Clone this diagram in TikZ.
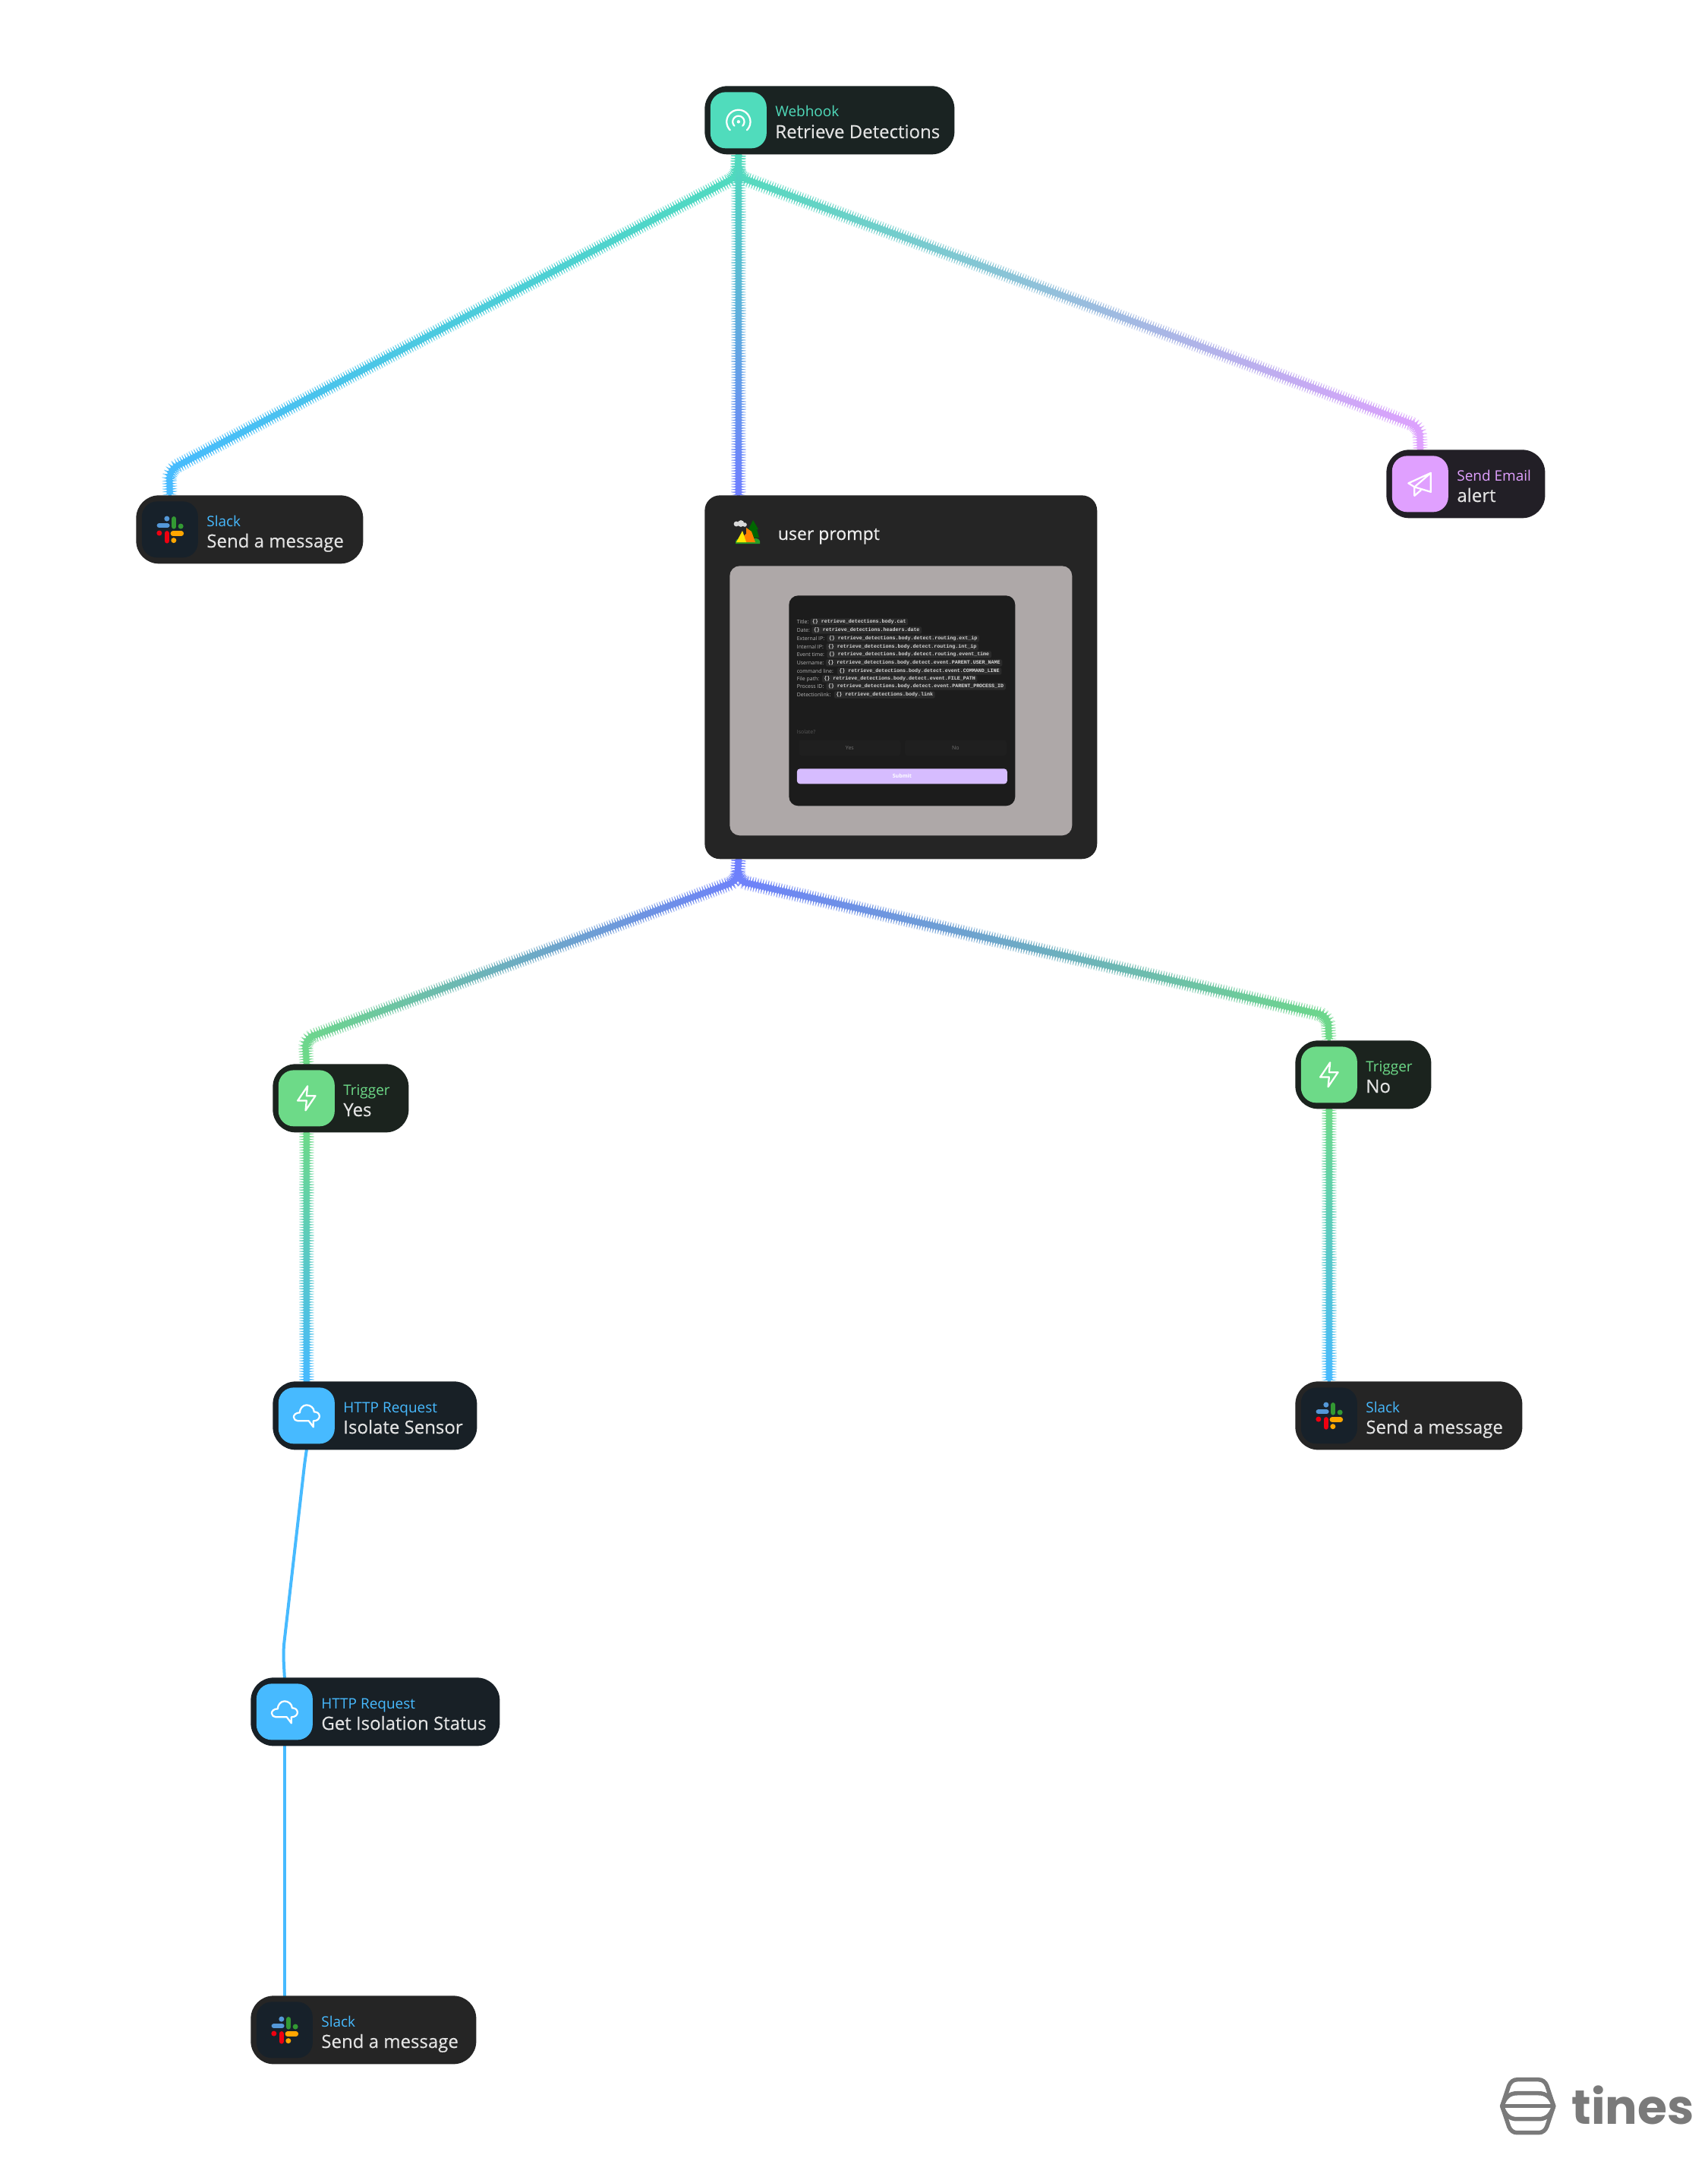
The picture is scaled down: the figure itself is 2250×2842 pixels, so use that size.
\documentclass[tikz,border=0pt]{standalone}
\usepackage{fontspec}
\setmainfont{Open Sans}
\newfontfamily\cardfont[FakeBold=0.3]{Open Sans}
\newfontfamily\logofont{Poppins}
\setmonofont{Liberation Mono}
\usetikzlibrary{calc,backgrounds,decorations.markings}

\definecolor{hookcol}{HTML}{50DCBC}
\definecolor{hookbg}{HTML}{1A2322}
\definecolor{httpcol}{HTML}{47BAFF}
\definecolor{httpbg}{HTML}{182026}
\definecolor{trigcol}{HTML}{6DDA88}
\definecolor{trigbg}{HTML}{1B231E}
\definecolor{mailcol}{HTML}{E0A0FF}
\definecolor{mailbg}{HTML}{221F26}
\definecolor{promptcol}{HTML}{6E7EFF}
\definecolor{slackbg}{HTML}{252525}
\definecolor{slackicon}{HTML}{17212A}
\definecolor{formbg}{HTML}{1C1C1C}
\definecolor{greybg}{HTML}{AEA8A8}
\definecolor{logocol}{HTML}{7A7A7A}

\tikzset{
	cardbox/.style={rectangle,rounded corners=0.6cm,inner sep=0pt,minimum height=1.8cm,anchor=north west},
	iconbox/.style={rectangle,rounded corners=0.4cm,inner sep=0pt,minimum size=1.48cm,anchor=west},
	kindtext/.style={inner sep=0pt,anchor=base west,font=\fontsize{10.8pt}{12pt}\selectfont},
	nametext/.style={inner sep=0pt,anchor=base west,text=white!89!black,font=\cardfont\fontsize{13.66pt}{16pt}\selectfont},
	glyph/.style={draw=white,line width=0.045cm,line cap=round,line join=round},
	solidwire/.style={draw=#1,line width=0.08cm,line cap=round},
	wire/.style 2 args={
		draw=#1!50!#2,line width=0.06cm,rounded corners=0.24cm,
		decoration={markings,mark=between positions 0 and 1 step 2pt with {
			\pgfmathsetmacro\mixpct{max(0,100-\pgfkeysvalueof{/pgf/decoration/mark info/distance from start}/\pgfdecoratedpathlength*100)}
			\fill[#1!\mixpct!#2] (-1.3pt,-1.14pt) rectangle (1.3pt,1.14pt);
		}},
		postaction={decorate}},
	formtext/.style={inner sep=0pt,anchor=base west,text=white!72!black,font=\fontsize{3.95pt}{5pt}\selectfont},
	chipbox/.style={fill=white!17!black,rounded corners=1pt,inner xsep=1.5pt,inner ysep=0.75pt,anchor=west,
		text height=3pt,text depth=0.8pt,text=white!85!black,font=\ttfamily\bfseries\fontsize{3.78pt}{5pt}\selectfont},
	formbutton/.style={fill=white!12!black,rounded corners=0.08cm,inner sep=0pt,minimum height=0.42cm,
		font=\fontsize{4pt}{5pt}\selectfont,text=white!44!black},
}

% name, left, top, width, card fill, accent, icon fill, kind, title
\newcommand{\card}[9]{
	\node (#1) [cardbox,fill=#5,minimum width=#4*0.02cm] at (#2,#3) {};
	\node (#1icon) [iconbox,fill=#7] at ($(#1.west)+(7.5,0)$) {};
	\node (#1kind) [kindtext,text=#6] at ($(#1.north west)+(93,41)$) {#8};
	\node (#1name) [nametext] at ($(#1.north west)+(93,69)$) {#9};
}
\newcommand{\boltglyph}[1]{
	\draw[glyph,shift={(#1)},x=0.026cm,y=-0.032cm] (1,-10) -- (-9,2) -- (0,2) -- (-1,10) -- (9,-2) -- (0,-2) -- cycle;
}
\newcommand{\cloudglyph}[1]{
	\draw[glyph,shift={(#1)}] (-11,7) -- (3,7) -- (9,15) -- (9,7) .. controls (14,7) and (17,4) .. (17,1) .. controls (17,-3) and (14,-5) .. (10,-5) .. controls (10,-10) and (5,-14) .. (0,-14) .. controls (-5,-14) and (-9,-9) .. (-9,-4) .. controls (-14,-4) and (-17,-1) .. (-17,2) .. controls (-17,5) and (-14,7) .. (-11,7) -- cycle;
}
\newcommand{\slackglyph}[1]{
	\begin{scope}[shift={(#1)},line width=0.13cm,line cap=round]
		\draw[color=cyan!60!blue!70!white] (-14,-5.3) -- (-3.5,-5.3);
		\fill[color=cyan!60!blue!70!white] (-4,-14.3) circle (3.5);
		\draw[color=green!50!black!80!white] (5.3,-14) -- (5.3,-4);
		\fill[color=green!50!black!80!white] (14.3,-4.3) circle (3.5);
		\draw[color=orange!70!yellow] (4,5.3) -- (15,5.3);
		\fill[color=orange!70!yellow] (5,14.3) circle (3.5);
		\draw[color=red!75!purple] (-4,5) -- (-4,15);
		\fill[color=red!75!purple] (-14,4.7) circle (3.5);
	\end{scope}
}

\begin{document}
\begin{tikzpicture}[x=0.02cm,y=-0.02cm]
	\useasboundingbox (0,0) rectangle (2250,2842);

	\card{hook}{928}{113}{329}{hookbg}{hookcol}{hookcol}{Webhook}{Retrieve Detections}
	\card{slacka}{179}{652}{299}{slackbg}{httpcol}{slackicon}{Slack}{Send a message}
	\card{mail}{1826}{592}{209}{mailbg}{mailcol}{mailcol}{Send Email}{alert}
	\card{yes}{359}{1401}{179}{trigbg}{trigcol}{trigcol}{Trigger}{Yes}
	\card{no}{1706}{1370}{179}{trigbg}{trigcol}{trigcol}{Trigger}{No}
	\card{isolate}{359}{1819}{269}{httpbg}{httpcol}{httpcol}{HTTP Request}{Isolate Sensor}
	\card{slackb}{1706}{1819}{299}{slackbg}{httpcol}{slackicon}{Slack}{Send a message}
	\card{status}{330}{2209}{328}{httpbg}{httpcol}{httpcol}{HTTP Request}{Get Isolation Status}
	\card{slackc}{330}{2628}{297}{slackbg}{httpcol}{slackicon}{Slack}{Send a message}

	% webhook icon
	\fill[white,shift={(hookicon)}] (0,2) circle (2.2);
	\draw[glyph,shift={(hookicon)},variable=\x,domain=-225:45,samples=40,smooth] plot ({15.6*cos(\x)},{2+15.6*sin(\x)});
	\draw[glyph,shift={(hookicon)},variable=\x,domain=-225:45,samples=30,smooth] plot ({7.6*cos(\x)},{2+7.6*sin(\x)});

	% paper plane
	\draw[glyph,shift={(mailicon)}] (14,-14.5) -- (-15.5,-1) -- (-7.5,4) -- cycle (14,-14.5) -- (14,10.5) -- (-7.5,4) -- (-7.5,15.5) -- (1,8.2);

	\boltglyph{yesicon}
	\boltglyph{noicon}
	\cloudglyph{isolateicon}
	\cloudglyph{statusicon}
	\slackglyph{slackaicon}
	\slackglyph{slackbicon}
	\slackglyph{slackcicon}

	% page block
	\node (prompt) [fill=slackbg,rounded corners=0.4cm,inner sep=0pt,minimum width=10.34cm,minimum height=9.58cm,anchor=north west] at (928,652) {};
	\node (grey) [fill=greybg,rounded corners=0.26cm,inner sep=0pt,minimum width=9.02cm,minimum height=7.1cm,anchor=north west] at (961,745) {};
	\node (form) [fill=formbg,rounded corners=0.24cm,inner sep=0pt,minimum width=5.96cm,minimum height=5.54cm,anchor=north west] at (1039,784) {};
	\node (promptname) [inner sep=0pt,anchor=base west,text=white!93!black,font=\cardfont\fontsize{13.1pt}{16pt}\selectfont] at (1024.5,711) {user prompt};

	% tent
	\fill[green!55!black!85!white] (969,716) .. controls (968,711) and (972,709) .. (975,709) -- (995,709) .. controls (999,709) and (1002,711) .. (1001,716) -- cycle;
	\fill[green!40!black] (992,685) -- (986,697) -- (988,697) -- (985,708) -- (1000,708) -- (997,697) -- (999,697) -- cycle;
	\fill[orange] (983,703) -- (970,714) -- (995,714) -- (990,700) -- (983,695) -- cycle;
	\fill[yellow!90!orange] (978,699) -- (970,714) -- (983,714) -- cycle;
	\fill[white!85!black] (970,690) circle (3.4) (976,689.5) circle (4.4) (981,691) circle (2.8);

	\foreach \lab/\var/\rowy/\chipx [count=\i] in {
		Title:/body.cat/819/1067,
		Date:/headers.date/830/1069,
		External IP:/body.detect.routing.ext\_ip/841/1089,
		Internal IP:/body.detect.routing.int\_ip/852/1088,
		Event time:/body.detect.routing.event\_time/862/1089,
		Username:/body.detect.event.PARENT.USER\_NAME/873/1087.5,
		command line:/body.detect.event.COMMAND\_LINE/884/1102.5,
		File path:/body.detect.event.FILE\_PATH/894/1082.5,
		Process ID:/body.detect.event.PARENT\_PROCESS\_ID/904/1088,
		Detectionlink:/body.link/915/1098.5}{
		\node (row\i) [formtext] at (1049.5,\rowy+2.5) {\lab};
		\node (chip\i) [chipbox] at (\chipx,\rowy) {\{\} retrieve\_detections.\var};
	}

	\node (isolatelabel) [formtext,text=white!35!black] at (1049.5,966.5) {Isolate?};
	\node (yesbutton) [formbutton,minimum width=2.68cm,anchor=north west] at (1052,974) {Yes};
	\node (nobutton) [formbutton,minimum width=2.68cm,anchor=north west] at (1191.5,974) {No};
	\node (submit) [fill=purple!0!promptcol!70!magenta!40!white,rounded corners=0.08cm,inner sep=0pt,minimum width=5.54cm,minimum height=0.4cm,anchor=north west,text=white,font=\bfseries\fontsize{4pt}{5pt}\selectfont] at (1049.5,1012) {Submit};

	% logo
	\begin{scope}[shift={(2012.7,2773.7)},draw=logocol,line width=0.11cm]
		\draw (-34,0) -- (-25,-27) .. controls (-23,-32) and (-19,-35) .. (-14,-35) -- (14,-35) .. controls (19,-35) and (23,-32) .. (25,-27) -- (34,0) -- (25,27) .. controls (23,32) and (19,35) .. (14,35) -- (-14,35) .. controls (-19,35) and (-23,32) .. (-25,27) -- cycle;
		\draw (-34,0) .. controls (-30,-12) and (-24,-17) .. (-14,-17) -- (14,-17) .. controls (24,-17) and (30,-12) .. (34,0);
		\draw (-34,0) .. controls (-30,12) and (-24,17) .. (-14,17) -- (14,17) .. controls (24,17) and (30,12) .. (34,0);
		\draw (-34,0) -- (34,0);
	\end{scope}
	\node (tines) [inner sep=0pt,anchor=base west,text=logocol,font=\logofont\bfseries\fontsize{36pt}{40pt}\selectfont] at (2070,2797) {tines};

	\coordinate (hooksplit) at (971.5,232);
	\coordinate (slackabend) at (223,619);
	\coordinate (mailbend) at (1870,562);
	\coordinate (promptsplit) at (971.5,1160);
	\coordinate (yesbend) at (402,1368);
	\coordinate (nobend) at (1749,1338);
	\coordinate (isolatebend) at (402,1921);
	\coordinate (statusbend) at (373,2175);

	\begin{scope}[on background layer]
		\draw[wire={hookcol}{httpcol}] (hookicon |- hook.south) -- (hooksplit) -- (slackabend) -- (slackaicon |- slacka.north);
		\draw[wire={hookcol}{mailcol}] (hookicon |- hook.south) -- (hooksplit) -- (mailbend) -- (mailicon |- mail.north);
		\draw[wire={hookcol}{promptcol}] (hookicon |- hook.south) -- (hookicon |- prompt.north);
		\draw[wire={promptcol}{trigcol}] (hookicon |- prompt.south) -- (promptsplit) -- (yesbend) -- (yesicon |- yes.north);
		\draw[wire={promptcol}{trigcol}] (hookicon |- prompt.south) -- (promptsplit) -- (nobend) -- (noicon |- no.north);
		\draw[wire={trigcol}{httpcol}] (yesicon |- yes.south) -- (isolateicon |- isolate.north);
		\draw[wire={trigcol}{httpcol}] (noicon |- no.south) -- (slackbicon |- slackb.north);
		\draw[solidwire=httpcol,rounded corners=0.24cm] (isolateicon |- isolate.south) -- (isolatebend) -- (statusbend) -- (statusicon |- status.north);
		\draw[solidwire=httpcol] (statusicon |- status.south) -- (slackcicon |- slackc.north);
	\end{scope}
\end{tikzpicture}
\end{document}
